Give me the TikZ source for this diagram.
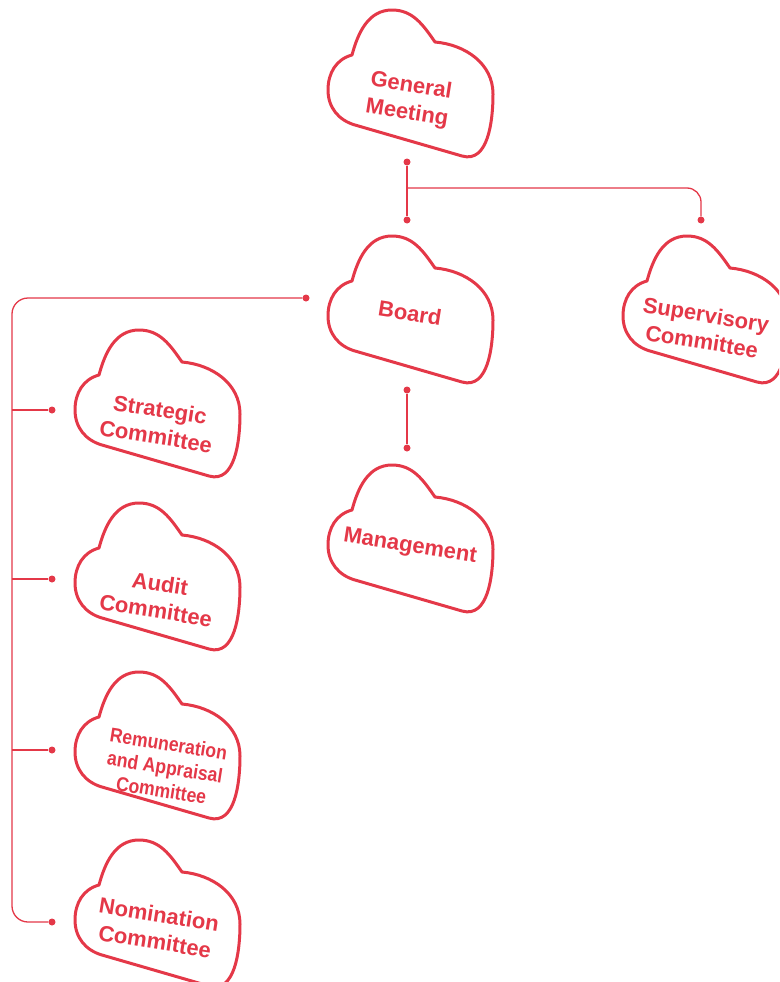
\documentclass[tikz,border=0pt]{standalone}
\usepackage{fontspec}
\setmainfont{Liberation Sans}
\newfontfamily\condfont[FakeStretch=0.88]{Liberation Sans}
\usetikzlibrary{calc}

\definecolor{brand}{RGB}{228,56,72}

\tikzset{
  basic/.style  = {text=brand, align=center, inner sep=0pt, rotate=-9},
  label/.style  = {basic, font=\bfseries\fontsize{22}{27}\selectfont},
  small/.style  = {basic, font=\condfont\bfseries\fontsize{20}{23.5}\selectfont},
  dot/.style    = {circle, fill=brand, inner sep=0pt, minimum size=7pt},
  conn/.style   = {draw=brand, line width=1.3pt},
  cloudline/.style = {draw=brand, line width=3pt, line join=round},
  cloud/.pic = {
    \draw[cloudline] (-58,27) to[out=75,in=180] (-18,72) to[out=0,in=125] (25,40)
      to[out=-5,in=90] (83,-12) to[out=-90,in=-16] (52,-74) -- (-55,-43)
      to[out=164,in=-90] (-82,-8) to[out=90,in=195] (-58,27) -- cycle;
  }
}

\begin{document}
\begin{tikzpicture}[x=1pt, y=1pt]

\useasboundingbox (0,0) rectangle (779,-982);
\clip (0,0) rectangle (779,-982);

% The clouds
\pic at (410,-82)  {cloud};
\pic at (410,-308) {cloud};
\pic at (705,-308) {cloud};
\pic at (410,-537) {cloud};
\pic at (157,-402) {cloud};
\pic at (157,-575) {cloud};
\pic at (157,-744) {cloud};
\pic at (157,-912) {cloud};

% The texts inside the clouds
\begin{scope}[every node/.style={label}]
\node (gm)  at (409,-100) {General\\Meeting};
\node (bd)  at (410,-313) {Board};
\node (sv)  at (704,-328) {Supervisory\\Committee};
\node (mg)  at (410,-547) {Management};
\node (c1)  at (158,-423) {Strategic\\Committee};
\node (c2)  at (158,-597) {Audit\\Committee};
\node (c4)  at (157,-928) {Nomination\\Committee};
\end{scope}

\node[small] (c3) at (165,-767) {Remuneration\\and Appraisal\\Committee};

% The connector dots
\begin{scope}[every node/.style={dot}]
\node (gm-out) at (407,-162) {};
\node (bd-in)  at (407,-220) {};
\node (sv-in)  at (701,-220) {};
\node (bd-out) at (407,-390) {};
\node (mg-in)  at (407,-448) {};
\node (bd-w)   at (306,-298) {};
\node (c1-in)  at (52,-410) {};
\node (c2-in)  at (52,-579) {};
\node (c3-in)  at (52,-750) {};
\node (c4-in)  at (52,-922) {};
\end{scope}

\coordinate (split) at (407,-188);
\coordinate (trunk) at (12,-298);

\draw[conn] (gm-out) -- (bd-in);
\draw[conn, rounded corners=14pt] (split) -| (sv-in);
\draw[conn] (bd-out) -- (mg-in);

\draw[conn, rounded corners=16pt] (bd-w) -| ($(trunk)+(0,-300)$) |- (c4-in);

\foreach \value in {1,...,3}
  \draw[conn] (c\value-in -| trunk) -- (c\value-in);

\end{tikzpicture}
\end{document}
